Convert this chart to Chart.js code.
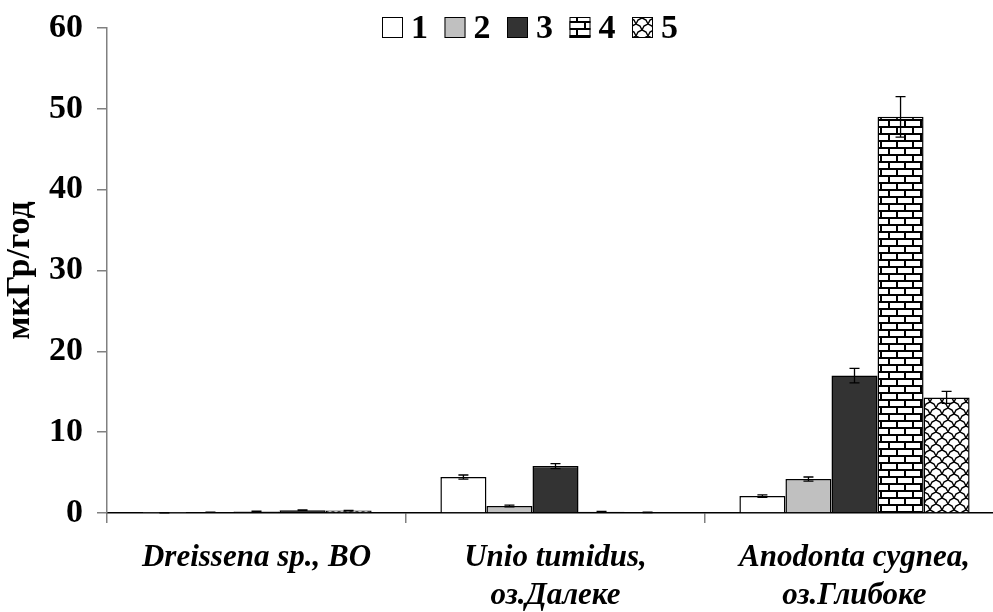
<!DOCTYPE html>
<html>
<head>
<meta charset="utf-8">
<script src="https://cdn.jsdelivr.net/npm/chart.js@4.4.1/dist/chart.umd.min.js"></script>
<style>
    html, body {
        margin: 0;
        padding: 0;
        background: #ffffff;
        overflow: hidden;
    }
    #wrap {
        position: absolute;
        left: 0;
        top: 0;
        width: 1010px;
        height: 612px;
    }
</style>
</head>
<body>
<div id="wrap">
    <canvas id="doseChart"></canvas>
</div>

<script>

// ======================================
// Data
// ======================================

const categories = [
    ["Dreissena sp., BO"],
    ["Unio tumidus,", "оз.Далеке"],
    ["Anodonta cygnea,", "оз.Глибоке"]
];

const seriesLabels = ["1", "2", "3", "4", "5"];

const series1 = [0.02, 4.45, 2.1];
const series2 = [0.1, 0.87, 4.2];
const series3 = [0.2, 5.8, 17.0];
const series4 = [0.35, 0.15, 49.0];
const series5 = [0.3, 0.08, 14.3];

const err1 = [0.01, 0.25, 0.15];
const err2 = [0.02, 0.1, 0.25];
const err3 = [0.03, 0.3, 0.9];
const err4 = [0.03, 0.05, 2.5];
const err5 = [0.03, 0.02, 0.75];

const yTicks = [0, 10, 20, 30, 40, 50, 60];

const yTitle = "мкГр/год";

// ======================================
// Fonts / Colors
// ======================================

const serif = '"Liberation Serif", "Times New Roman", serif';
const axisGrey = "#808080";

// ======================================
// Fill Patterns
// ======================================

function brickPattern() {

    const c = document.createElement("canvas");
    c.width = 16;
    c.height = 14;
    const g = c.getContext("2d");

    g.fillStyle = "#ffffff";
    g.fillRect(0, 0, 16, 14);

    g.fillStyle = "#000000";
    g.fillRect(0, 0, 16, 2);
    g.fillRect(0, 7, 16, 2);
    g.fillRect(0, 0, 2, 7);
    g.fillRect(8, 7, 2, 7);

    return g.createPattern(c, "repeat");

}

function wavePattern() {

    const c = document.createElement("canvas");
    c.width = 12;
    c.height = 12;
    const g = c.getContext("2d");

    g.fillStyle = "#ffffff";
    g.fillRect(0, 0, 12, 12);

    g.strokeStyle = "#000000";
    g.lineWidth = 1.4;

    g.beginPath();
    g.moveTo(0, 0);
    g.lineTo(4, 2);
    g.lineTo(6, 6);
    g.lineTo(10, 8);
    g.lineTo(12, 12);
    g.stroke();

    g.beginPath();
    g.moveTo(0, 12);
    g.lineTo(2, 8);
    g.lineTo(6, 6);
    g.lineTo(8, 2);
    g.lineTo(12, 0);
    g.stroke();

    return g.createPattern(c, "repeat");

}

const fills = [
    "#ffffff",
    "#c0c0c0",
    "#333333",
    brickPattern(),
    wavePattern()
];

const seriesData = [series1, series2, series3, series4, series5];
const seriesErr = [err1, err2, err3, err4, err5];

// ======================================
// Error Bars + Legend Plugin
// ======================================

const extras = {

    id: "extras",

    afterDatasetsDraw(chart) {

        const ctx = chart.ctx;
        const yScale = chart.scales.y;

        ctx.save();
        ctx.strokeStyle = "#000000";
        ctx.lineWidth = 1.3;

        chart.data.datasets.forEach((ds, i) => {

            const meta = chart.getDatasetMeta(i);

            meta.data.forEach((bar, j) => {

                const v = ds.data[j];
                const e = ds.errors[j];
                const top = yScale.getPixelForValue(v + e);
                const bottom = yScale.getPixelForValue(v - e);
                const x = bar.x;

                ctx.beginPath();
                ctx.moveTo(x, top);
                ctx.lineTo(x, bottom);
                ctx.moveTo(x - 5, top);
                ctx.lineTo(x + 5, top);
                ctx.moveTo(x - 5, bottom);
                ctx.lineTo(x + 5, bottom);
                ctx.stroke();

            });

        });

        ctx.restore();

    },

    afterDraw(chart) {

        const ctx = chart.ctx;
        const left = 382;
        const step = 62.5;

        ctx.save();
        ctx.font = "bold 34px " + serif;
        ctx.textBaseline = "middle";
        ctx.textAlign = "left";

        chart.data.datasets.forEach((ds, i) => {

            const x0 = left + i * step;

            ctx.fillStyle = ds.backgroundColor;
            ctx.fillRect(x0, 17, 21, 21);
            ctx.strokeStyle = "#000000";
            ctx.lineWidth = 1;
            ctx.strokeRect(x0 + 0.5, 17.5, 20, 20);

            ctx.fillStyle = "#000000";
            ctx.fillText(ds.label, x0 + 29, 29);

        });

        ctx.restore();

    }

};

// ======================================
// Chart
// ======================================

const canvas = document.getElementById("doseChart");

new Chart(canvas, {

    type: "bar",

    data: {

        labels: categories,

        datasets: seriesLabels.map((label, i) => ({

            label: label,

            data: seriesData[i],

            errors: seriesErr[i],

            backgroundColor: fills[i],

            borderColor: "#000000",

            borderWidth: 1.5,

            categoryPercentage: 0.77,

            barPercentage: 1.0

        }))

    },

    options: {

        responsive: true,

        maintainAspectRatio: false,

        animation: false,

        layout: {

            padding: {
                top: 20,
                right: 6,
                bottom: 0,
                left: 0
            }

        },

        plugins: {

            legend: {
                display: false
            },

            tooltip: {
                enabled: false
            }

        },

        scales: {

            x: {

                afterFit(scale) {
                    scale.height = 99;
                },

                border: {
                    color: "#000000",
                    width: 1.5
                },

                grid: {
                    offset: true,
                    drawOnChartArea: false,
                    drawTicks: true,
                    tickLength: 10,
                    color: axisGrey,
                    lineWidth: 1.5
                },

                ticks: {
                    color: "#000000",
                    padding: 16,
                    maxRotation: 0,
                    autoSkip: false,
                    font: {
                        family: serif,
                        size: 31,
                        weight: "bold",
                        style: "italic",
                        lineHeight: 1.22
                    }
                }

            },

            y: {

                min: 0,

                max: 60,

                afterFit(scale) {
                    scale.width = 107;
                },

                afterBuildTicks(scale) {
                    scale.ticks = yTicks.map(v => ({ value: v }));
                },

                border: {
                    color: axisGrey,
                    width: 1.5
                },

                grid: {
                    drawOnChartArea: false,
                    drawTicks: true,
                    tickLength: 10,
                    color: axisGrey,
                    lineWidth: 1.5
                },

                ticks: {
                    color: "#000000",
                    padding: 14,
                    font: {
                        family: serif,
                        size: 34,
                        weight: "bold",
                        lineHeight: 0.82
                    }
                },

                title: {
                    display: true,
                    text: yTitle,
                    color: "#000000",
                    padding: 0,
                    font: {
                        family: serif,
                        size: 34,
                        weight: "bold"
                    }
                }

            }

        }

    },

    plugins: [extras]

});

</script>
</body>
</html>
